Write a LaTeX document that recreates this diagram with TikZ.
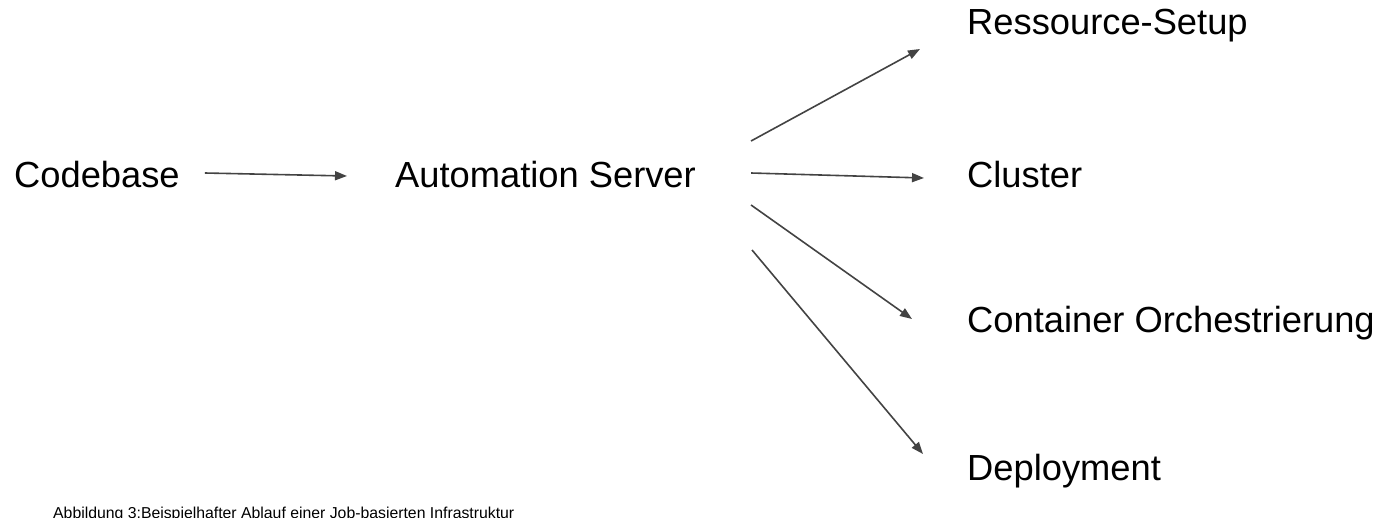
\documentclass[tikz,border=0pt]{standalone}
\usepackage{fontspec}
\setmainfont{Liberation Sans}
\usetikzlibrary{arrows.meta,calc}
\definecolor{arrowgray}{HTML}{434343}
\tikzset{
  label/.style={anchor=base west, inner sep=0pt, font=\fontsize{36.3}{40}\selectfont, text=black},
  caption/.style={anchor=base west, inner sep=0pt, font=\fontsize{15.8}{19}\selectfont, text=black},
  flow/.style={draw=arrowgray, line width=1.6pt, -{Triangle[length=12pt,width=9pt]}}
}
\begin{document}
\begin{tikzpicture}[x=1pt,y=-1pt]
  \useasboundingbox (0,0) rectangle (1390,517);
  \clip (0,0) rectangle (1390,517);

  % sources and targets
  \node[label] (cb) at (14,187) {Codebase};
  \node[label] (as) at (395,187) {Automation Server};
  \node[label] (rs) at (967,34) {Ressource-Setup};
  \node[label] (cl) at (967,187) {Cluster};
  \node[label] (co) at (967,332) {Container Orchestrierung};
  \node[label] (de) at (967,480) {Deployment};

  % figure caption (runs past the lower edge)
  \node[caption] (cap) at (53,518) {Abbildung 3:Beispielhafter Ablauf einer Job-basierten Infrastruktur};

  % connectors
  \draw[flow] ($(cb.base east)+(25,-14)$) -- ($(as.base west)+(-48,-11)$);
  \draw[flow] ($(as.base east)+(55,-46)$) -- ($(rs.base west)+(-47,15)$);
  \draw[flow] ($(as.base east)+(55,-14)$) -- ($(cl.base west)+(-43,-9)$);
  \draw[flow] ($(as.base east)+(55,18)$) -- ($(co.base west)+(-55,-13)$);
  \draw[flow] ($(as.base east)+(56,63)$) -- ($(de.base west)+(-44,-26)$);
\end{tikzpicture}
\end{document}
